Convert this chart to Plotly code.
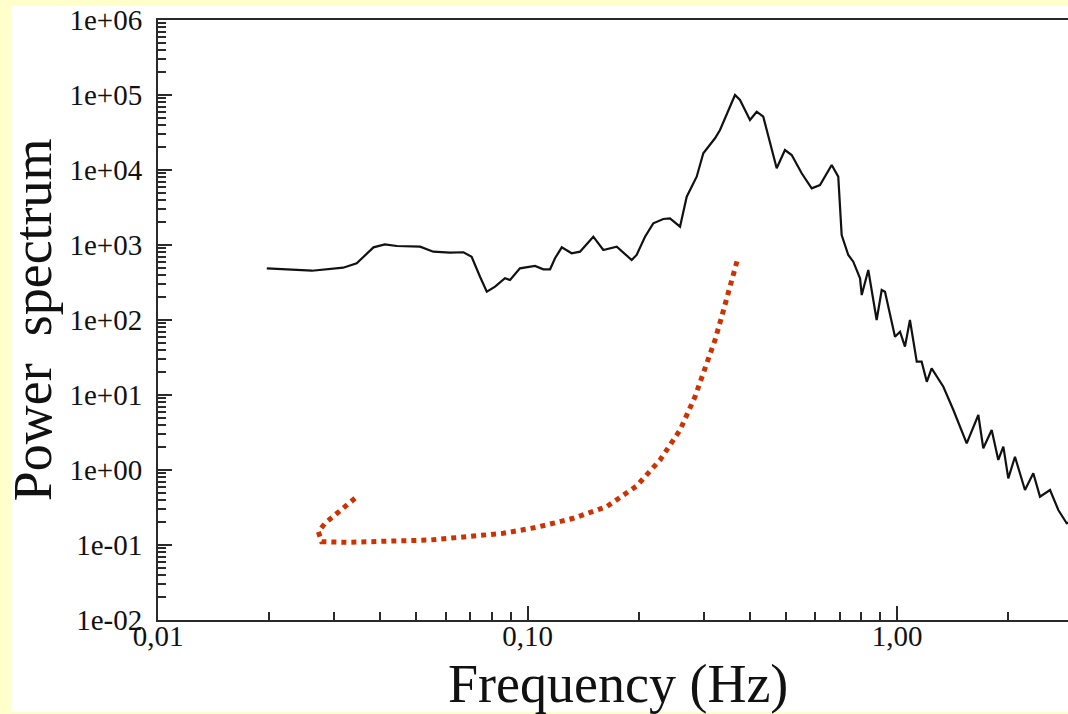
import plotly.graph_objects as go

# ---- data ----
spectrum_freq = [0.0197, 0.0261, 0.0317, 0.0345, 0.0383, 0.0411, 0.0443, 0.0512, 0.0556, 0.0617,
                 0.0671, 0.0706, 0.0744, 0.0776, 0.0817, 0.0869, 0.0897, 0.0954, 0.1048, 0.1104,
                 0.1151, 0.1187, 0.1238, 0.1317, 0.1387, 0.1507, 0.1604, 0.1744, 0.1914, 0.1974,
                 0.208, 0.219, 0.2331, 0.243, 0.2587, 0.2697, 0.287, 0.2991, 0.3217, 0.3319,
                 0.3644, 0.3759, 0.4001, 0.4171, 0.4346, 0.4484, 0.4725, 0.4975, 0.5188, 0.5522,
                 0.5877, 0.6188, 0.6657, 0.6935, 0.7084, 0.7382, 0.7615, 0.7943, 0.8027, 0.8362,
                 0.881, 0.9091, 0.9279, 0.9876, 1.019, 1.051, 1.084, 1.131, 1.166, 1.204,
                 1.241, 1.335, 1.421, 1.544, 1.660, 1.712, 1.804, 1.880, 1.940, 2.001,
                 2.086, 2.220, 2.338, 2.438, 2.595, 2.733, 2.879, 3.0]
spectrum_power = [489, 454, 498, 570, 931, 1021, 970, 949, 814, 789,
                  800, 698, 378, 238, 278, 360, 341, 489, 525, 474,
                  474, 665, 931, 775, 814, 1291, 858, 949, 631, 736,
                  1291, 1945, 2222, 2270, 1754, 4406, 8147, 16700, 26480, 34140,
                  100000, 85770, 46420, 59840, 51400, 27800, 10540, 18480, 15850, 9036,
                  5700, 6310, 11660, 8147, 1359, 736, 599, 360, 215, 464,
                  100, 251, 238, 59.9, 69.8, 44.1, 100, 27.8, 27.8, 15.0,
                  22.7, 12.9, 6.31, 2.27, 5.41, 1.95, 3.41, 1.36, 2.05, 0.774,
                  1.50, 0.541, 0.903, 0.441, 0.541, 0.293, 0.195, 0.21]

curve_freq = [0.03413, 0.03208, 0.03013, 0.02831, 0.02716, 0.02773, 0.03242, 0.04071, 0.05447,
              0.06847, 0.0860, 0.1059, 0.1330, 0.1638, 0.1974, 0.2284, 0.2587, 0.2840, 0.3055,
              0.3217, 0.3354, 0.3495, 0.3606, 0.3719]
curve_power = [0.420, 0.324, 0.251, 0.1945, 0.1503, 0.1107, 0.1086, 0.1107, 0.1166,
               0.1292, 0.1432, 0.1722, 0.2270, 0.3243, 0.6124, 1.359, 3.415, 9.49, 26.5,
               54.1, 110.7, 227, 440, 698]

x_tick_vals = [0.01, 0.1, 1]
x_tick_text = ["0,01", "0,10", "1,00"]
y_tick_vals = [1e-2, 1e-1, 1e0, 1e1, 1e2, 1e3, 1e4, 1e5, 1e6]
y_tick_text = ["1e-02", "1e-01", "1e+00", "1e+01", "1e+02", "1e+03", "1e+04", "1e+05", "1e+06"]

x_minor = [m * 10.0 ** e for e in (-2, -1, 0) for m in range(2, 10)]
y_minor = [m * 10.0 ** e for e in range(-2, 6) for m in range(2, 10)]

SERIF = "Liberation Serif"
AXIS_COLOR = "#2a2a2a"
TEXT_COLOR = "#111111"

fig = go.Figure()
fig.add_trace(go.Scatter(x=spectrum_freq, y=spectrum_power, mode="lines",
                         line=dict(color="#111111", width=2.2), showlegend=False))
fig.add_trace(go.Scatter(x=curve_freq, y=curve_power, mode="lines",
                         line=dict(color="#cc3300", width=5, dash="dot"), showlegend=False))

fig.update_layout(
    width=1068, height=714,
    margin=dict(l=158, r=0, t=20, b=94),
    paper_bgcolor="#ffffcc",
    plot_bgcolor="#ffffff",
    font=dict(family=SERIF, color=TEXT_COLOR),
    shapes=[dict(type="rect", xref="paper", yref="paper",
                 x0=-0.1615, x1=1.01, y0=-0.153, y1=1.0233,
                 fillcolor="#ffffff", line=dict(width=0), layer="below")],
    annotations=[
        dict(text="Frequency (Hz)", xref="paper", yref="paper", x=0.505, y=-0.107,
             xanchor="center", yanchor="middle", showarrow=False,
             font=dict(family=SERIF, size=54, color=TEXT_COLOR)),
        dict(text="Power\u00a0 spectrum", xref="paper", yref="paper", x=-0.137, y=0.5,
             xanchor="center", yanchor="middle", textangle=-90, showarrow=False,
             font=dict(family=SERIF, size=54, color=TEXT_COLOR)),
    ],
)

fig.update_xaxes(
    type="log", range=[-2, 0.4628],
    tickmode="array", tickvals=x_tick_vals, ticktext=x_tick_text,
    ticks="inside", ticklen=14, tickwidth=1.5, tickcolor=AXIS_COLOR,
    minor=dict(tickmode="array", tickvals=x_minor, ticks="inside", ticklen=8,
               tickwidth=1.5, tickcolor=AXIS_COLOR, showgrid=False),
    showgrid=False, zeroline=False,
    showline=True, linecolor=AXIS_COLOR, linewidth=2, mirror=True,
    tickfont=dict(family=SERIF, size=29, color=TEXT_COLOR),
    ticklabelstandoff=-11,
)
fig.update_yaxes(
    type="log", range=[-2, 6],
    tickmode="array", tickvals=y_tick_vals, ticktext=y_tick_text,
    ticks="inside", ticklen=14, tickwidth=1.5, tickcolor=AXIS_COLOR,
    minor=dict(tickmode="array", tickvals=y_minor, ticks="inside", ticklen=8,
               tickwidth=1.5, tickcolor=AXIS_COLOR, showgrid=False),
    showgrid=False, zeroline=False,
    showline=True, linecolor=AXIS_COLOR, linewidth=2,
    tickfont=dict(family=SERIF, size=29, color=TEXT_COLOR),
    ticklabelstandoff=8,
)

fig.write_html(
    "out.html",
    config={"displayModeBar": False},
    post_script=("document.body.style.margin='0';"
                 "document.body.style.padding='0';"
                 "document.body.style.overflow='hidden';"
                 "document.documentElement.style.overflow='hidden';"),
)
